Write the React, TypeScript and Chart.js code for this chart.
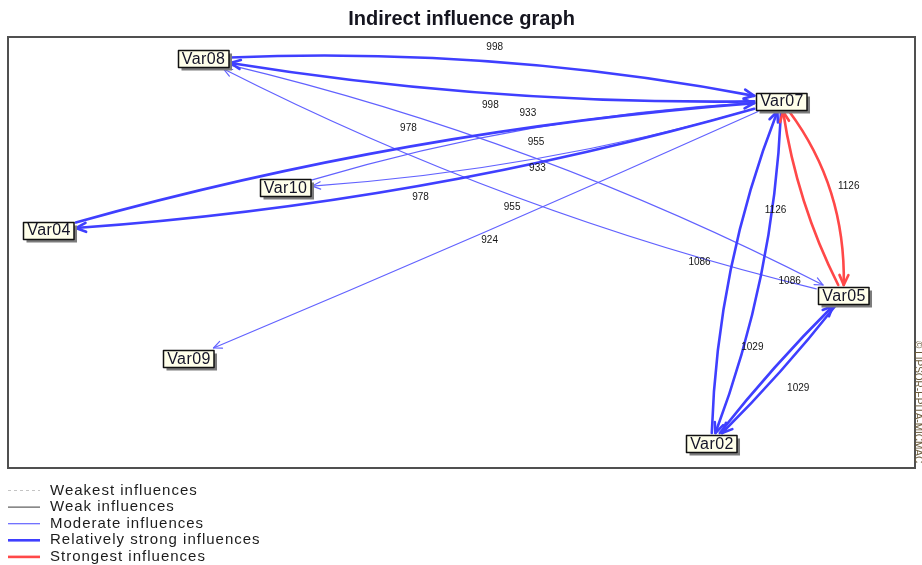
import React, { useEffect, useRef } from 'react';
import { Chart, registerables } from 'chart.js';

Chart.register(...registerables);

// ---- data ----
const nodeNames = ['Var08', 'Var07', 'Var10', 'Var04', 'Var09', 'Var05', 'Var02'];
const nodeX = [21.5, 85.28, 30.54, 4.47, 19.9, 92.12, 77.56];
const nodeY = [5.0, 14.85, 35.03, 44.78, 74.59, 59.98, 94.32];

const edgeFrom = ['Var08', 'Var07', 'Var04', 'Var07', 'Var10', 'Var07', 'Var08', 'Var05', 'Var07', 'Var07', 'Var05', 'Var02', 'Var07', 'Var02', 'Var05'];
const edgeTo = ['Var07', 'Var08', 'Var07', 'Var04', 'Var07', 'Var10', 'Var05', 'Var08', 'Var09', 'Var05', 'Var07', 'Var07', 'Var02', 'Var05', 'Var02'];
const edgeValues = [998, 998, 978, 978, 933, 933, 955, 955, 924, 1126, 1126, 1086, 1086, 1029, 1029];
// 0 weakest, 1 weak, 2 moderate, 3 relatively strong, 4 strongest
const edgeLevels = [3, 3, 3, 3, 2, 2, 2, 2, 2, 4, 4, 3, 3, 3, 3];
// curvature styling (fraction of chord, negative = left of travel)
const edgeBend = [-0.057, -0.043, -0.049, -0.052, -0.058, -0.052, -0.06, -0.058, -0.006, -0.171, -0.08, -0.086, -0.08, -0.03, -0.03];
const labelBend = [-0.057, -0.044, -0.051, -0.043, -0.062, -0.048, -0.054, -0.047, -0.018, -0.186, -0.19, -0.137, -0.126, -0.17, -0.14];

const legendLabels = ['Weakest influences', 'Weak influences', 'Moderate influences', 'Relatively strong influences', 'Strongest influences'];
const legendLevels = [0, 1, 2, 3, 4];

const titleText = 'Indirect influence graph';
const creditText = '\u00A9 LIPSOR-EPITA-MICMAC';

// ---- styles ----
const levelColor = ['#c4c4c4', '#3a3a3a', '#6262ff', '#3f3fff', '#ff4848'];
const levelWidth = [1, 1, 1.2, 2.6, 2.6];
const levelDash: number[][] = [[3, 3], [], [], [], []];
const FONT = '"Liberation Sans", Arial, sans-serif';

type P = { x: number; y: number };

function clipBox(c: P, p: P, hw: number, hh: number): P {
  const dx = p.x - c.x;
  const dy = p.y - c.y;
  const tx = dx !== 0 ? hw / Math.abs(dx) : Infinity;
  const ty = dy !== 0 ? hh / Math.abs(dy) : Infinity;
  const t = Math.min(tx, ty, 1);
  return { x: c.x + dx * t, y: c.y + dy * t };
}

function drawArrow(ctx: CanvasRenderingContext2D, tip: P, from: P, len: number, ang: number) {
  const d = Math.atan2(tip.y - from.y, tip.x - from.x);
  ctx.beginPath();
  ctx.moveTo(tip.x - len * Math.cos(d - ang), tip.y - len * Math.sin(d - ang));
  ctx.lineTo(tip.x, tip.y);
  ctx.lineTo(tip.x - len * Math.cos(d + ang), tip.y - len * Math.sin(d + ang));
  ctx.stroke();
}

const graphPlugin = {
  id: 'graphPlugin',
  beforeDatasetsDraw(chart: any) {
    const { ctx, chartArea: a } = chart;
    ctx.save();
    ctx.strokeStyle = '#505050';
    ctx.lineWidth = 2;
    ctx.strokeRect(a.left, a.top, a.right - a.left, a.bottom - a.top);
    ctx.restore();
  },
  afterDatasetsDraw(chart: any) {
    const { ctx, chartArea: a } = chart;
    const xs = chart.scales.x;
    const ys = chart.scales.y;
    const centers: P[] = nodeNames.map((_, i) => ({ x: xs.getPixelForValue(nodeX[i]), y: ys.getPixelForValue(nodeY[i]) }));
    ctx.save();
    const nodeFont = '16px ' + FONT;
    ctx.font = nodeFont;
    (ctx as any).letterSpacing = '0.4px';
    const bw = nodeNames.map((s) => ctx.measureText(s).width + 7);
    const bh = 17;
    (ctx as any).letterSpacing = '0px';

    const order = edgeValues.map((_, i) => i).sort((p, q) => edgeLevels[p] - edgeLevels[q]);
    const labels: { x: number; y: number; t: string }[] = [];
    for (const i of order) {
      const fi = nodeNames.indexOf(edgeFrom[i]);
      const ti = nodeNames.indexOf(edgeTo[i]);
      const p0 = centers[fi];
      const p2 = centers[ti];
      const dx = p2.x - p0.x;
      const dy = p2.y - p0.y;
      const L = Math.hypot(dx, dy);
      const n = { x: -dy / L, y: dx / L };
      const mid = { x: (p0.x + p2.x) / 2, y: (p0.y + p2.y) / 2 };
      const c = { x: mid.x + n.x * edgeBend[i] * L, y: mid.y + n.y * edgeBend[i] * L };
      const s = clipBox(p0, c, bw[fi] / 2 + 2, bh / 2 + 2);
      const e = clipBox(p2, c, bw[ti] / 2 + 2, bh / 2 + 2);
      const lv = edgeLevels[i];
      ctx.strokeStyle = levelColor[lv];
      ctx.lineWidth = levelWidth[lv];
      ctx.setLineDash(levelDash[lv]);
      ctx.lineCap = 'round';
      ctx.lineJoin = 'round';
      ctx.beginPath();
      ctx.moveTo(s.x, s.y);
      ctx.quadraticCurveTo(c.x, c.y, e.x, e.y);
      ctx.stroke();
      ctx.setLineDash([]);
      drawArrow(ctx, e, c, lv >= 3 ? 11 : 9, 0.42);
      labels.push({ x: mid.x + n.x * labelBend[i] * L, y: mid.y + n.y * labelBend[i] * L, t: String(edgeValues[i]) });
    }

    ctx.font = '10px ' + FONT;
    ctx.fillStyle = '#151515';
    ctx.textAlign = 'center';
    ctx.textBaseline = 'middle';
    for (const l of labels) ctx.fillText(l.t, l.x, l.y);

    // nodes
    ctx.font = nodeFont;
    (ctx as any).letterSpacing = '0.4px';
    nodeNames.forEach((name, i) => {
      const c = centers[i];
      const x0 = Math.round(c.x - bw[i] / 2) + 0.5;
      const y0 = Math.round(c.y - bh / 2) + 0.5;
      ctx.fillStyle = '#7c7c7c';
      ctx.fillRect(x0 + 3, y0 + 3, bw[i], bh);
      ctx.fillStyle = '#ffffea';
      ctx.fillRect(x0, y0, bw[i], bh);
      ctx.strokeStyle = '#111';
      ctx.lineWidth = 1.5;
      ctx.strokeRect(x0, y0, bw[i], bh);
      ctx.fillStyle = '#141428';
      ctx.textAlign = 'center';
      ctx.textBaseline = 'middle';
      ctx.fillText(name, c.x + 0.5, c.y + 1);
    });
    (ctx as any).letterSpacing = '0px';

    // legend
    ctx.font = '15px ' + FONT;
    (ctx as any).letterSpacing = '1px';
    legendLabels.forEach((lab, k) => {
      const lv = legendLevels[k];
      const yy = a.bottom + 22.5 + k * 16.6;
      ctx.strokeStyle = levelColor[lv];
      ctx.lineWidth = levelWidth[lv];
      ctx.setLineDash(levelDash[lv]);
      ctx.lineCap = 'butt';
      ctx.beginPath();
      ctx.moveTo(a.left, yy);
      ctx.lineTo(a.left + 32, yy);
      ctx.stroke();
      ctx.setLineDash([]);
      ctx.fillStyle = '#1c1c1c';
      ctx.textAlign = 'left';
      ctx.textBaseline = 'middle';
      ctx.fillText(lab, a.left + 42, yy);
    });
    (ctx as any).letterSpacing = '0px';

    // credit text
    ctx.translate(a.right + 3, a.bottom - 127);
    ctx.rotate(Math.PI / 2);
    ctx.font = '10px ' + FONT;
    ctx.fillStyle = '#6b5a3a';
    ctx.textAlign = 'left';
    ctx.textBaseline = 'middle';
    ctx.fillText(creditText, 0, 0);
    ctx.restore();
  },
};

export default function App() {
  const ref = useRef<HTMLCanvasElement>(null);
  useEffect(() => {
    const canvas = ref.current;
    if (!canvas) return;
    const chart = new Chart(canvas, {
      type: 'scatter',
      data: {
        datasets: [
          {
            label: 'nodes',
            data: nodeNames.map((_, i) => ({ x: nodeX[i], y: nodeY[i] })),
            pointRadius: 0,
            pointHoverRadius: 0,
          },
        ],
      },
      options: {
        animation: false,
        responsive: false,
        devicePixelRatio: 1,
        events: [],
        layout: { padding: { left: 8, right: 7, top: 0, bottom: 97 } },
        scales: {
          x: { type: 'linear', min: 0, max: 100, display: false },
          y: { type: 'linear', min: 0, max: 100, reverse: true, display: false },
        },
        plugins: {
          legend: { display: false },
          tooltip: { enabled: false },
          title: {
            display: true,
            text: titleText,
            color: '#15151f',
            font: { family: FONT, size: 20, weight: 'bold' },
            padding: { top: 7, bottom: 6 },
          },
        },
      },
      plugins: [graphPlugin],
    });
    return () => chart.destroy();
  }, []);
  return (
    <div style={{ position: 'fixed', left: 0, top: 0, width: 922, height: 565, background: '#fff' }}>
      <canvas ref={ref} width={922} height={565} style={{ display: 'block', width: 922, height: 565 }} />
    </div>
  );
}
